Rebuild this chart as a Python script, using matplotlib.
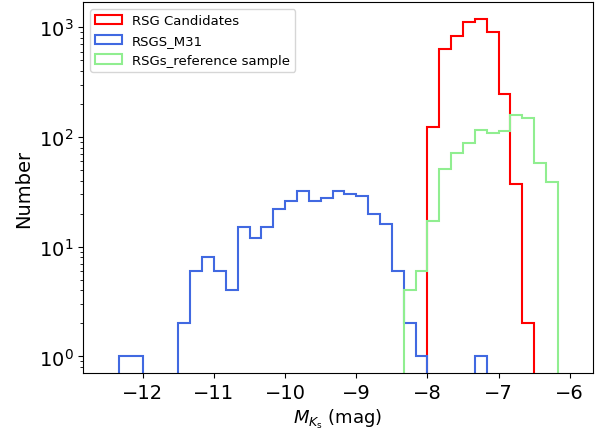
import numpy as np
import matplotlib
matplotlib.use("Agg")
import matplotlib.pyplot as plt

# bins of 1/6 mag from -12.5 to -6.0
bin_start = -12.5
bin_width = 1.0 / 6.0
n_bins = 39

# counts per bin
rsg_candidates = [0] * 27 + [124, 633, 837, 1109, 1188, 898, 246, 37, 2] + [0] * 3
rsgs_m31 = ([0, 1, 1, 0, 0, 0]
            + [2, 6, 8, 6, 4, 15, 12, 15, 22, 26, 32, 26, 28, 32, 30, 29, 20, 16, 6, 2, 1]
            + [0, 0, 0, 0, 1] + [0] * 7)
rsgs_reference = [0] * 25 + [4, 6, 17, 51, 72, 88, 116, 109, 113, 159, 149, 58, 39, 0]

labels = ["RSG Candidates", "RSGS_M31", "RSGs_reference sample"]
colors = ["red", "royalblue", "lightgreen"]

edges = bin_start + bin_width * np.arange(n_bins + 1)
centers = 0.5 * (edges[:-1] + edges[1:])

fig = plt.figure(figsize=(6, 4.35), dpi=100)
ax = fig.add_axes([0.139, 0.140, 0.849, 0.852])

for counts, lab, c in zip([rsg_candidates, rsgs_m31, rsgs_reference], labels, colors):
    ax.hist(centers, bins=edges, weights=counts, histtype="step", color=c,
            lw=1.5, label=lab, log=True)

ax.set_xlim(-12.834, -5.677)
ax.set_ylim(0.704, 1683)
ax.set_xticks([-12, -11, -10, -9, -8, -7, -6])
ax.tick_params(labelsize=14)
ax.set_xlabel(r"$M_{K_{\rm s}}$ (mag)", fontsize=13)
ax.set_ylabel("Number", fontsize=14)
ax.legend(loc="upper left", fontsize=9.5)

fig.savefig("out.png", dpi=100)
